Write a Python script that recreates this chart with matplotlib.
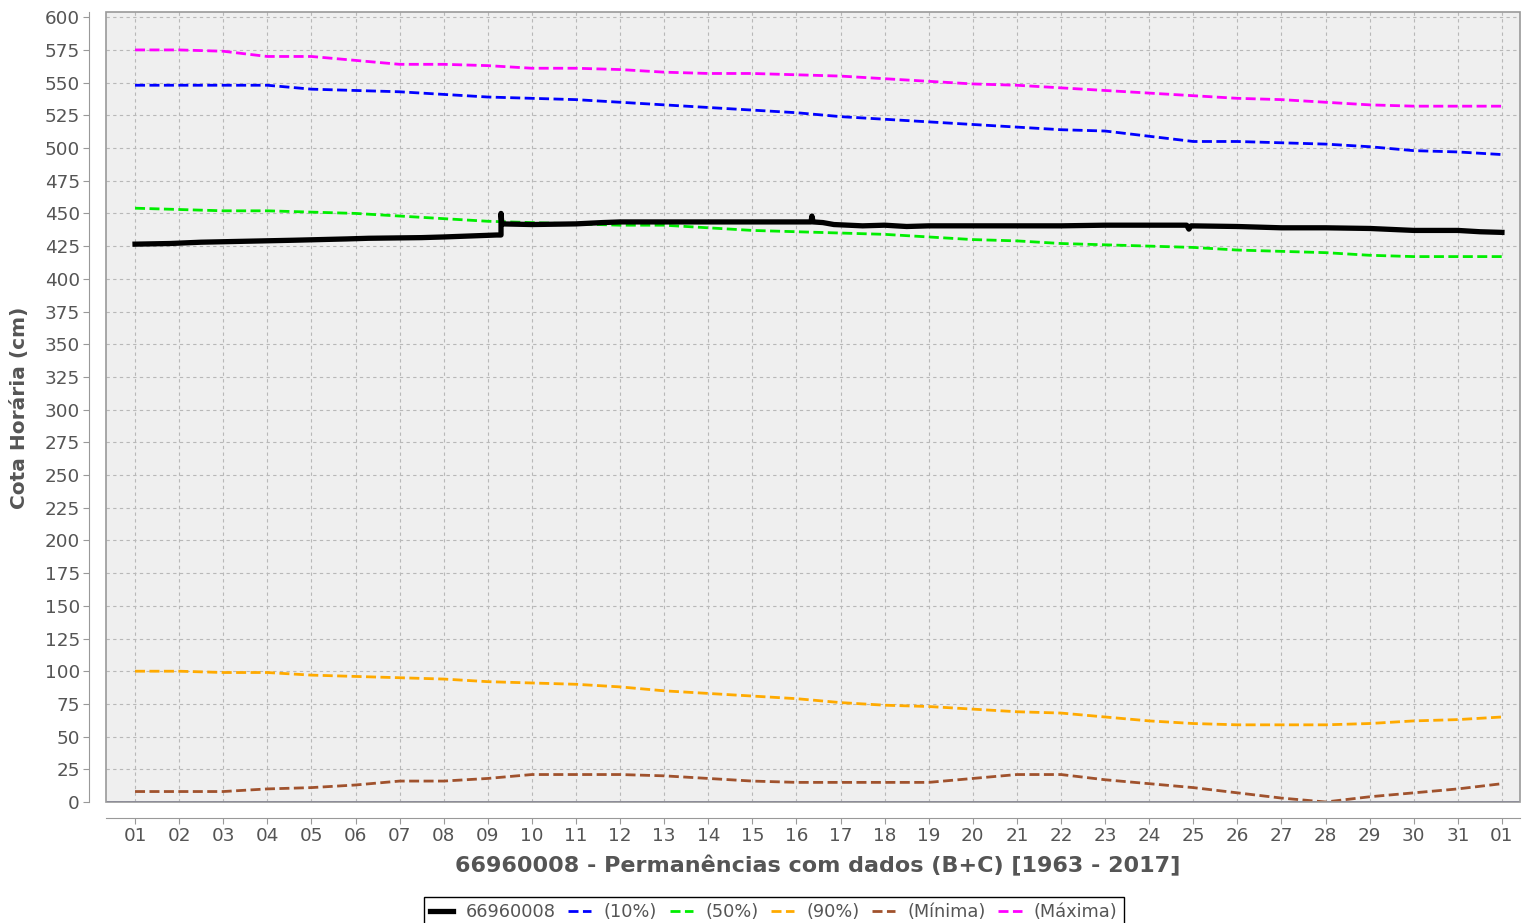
import matplotlib.pyplot as plt
from matplotlib.patches import Rectangle

# --- DADOS ---
dias = ['01', '02', '03', '04', '05', '06', '07', '08', '09', '10', '11', '12',
        '13', '14', '15', '16', '17', '18', '19', '20', '21', '22', '23', '24',
        '25', '26', '27', '28', '29', '30', '31', '01']

maxima = [575, 575, 574, 570, 570, 567, 564, 564, 563, 561, 561, 560, 558, 557, 557, 556,
          555, 553, 551, 549, 548, 546, 544, 542, 540, 538, 537, 535, 533, 532, 532, 532]
p10 = [548, 548, 548, 548, 545, 544, 543, 541, 539, 538, 537, 535, 533, 531, 529, 527,
       524, 522, 520, 518, 516, 514, 513, 509, 505, 505, 504, 503, 501, 498, 497, 495]
p50 = [454, 453, 452, 452, 451, 450, 448, 446, 444, 443, 442, 441, 441, 439, 437, 436,
       435, 434, 432, 430, 429, 427, 426, 425, 424, 422, 421, 420, 418, 417, 417, 417]
p90 = [100, 100, 99, 99, 97, 96, 95, 94, 92, 91, 90, 88, 85, 83, 81, 79,
       76, 74, 73, 71, 69, 68, 65, 62, 60, 59, 59, 59, 60, 62, 63, 65]
minima = [8, 8, 8, 10, 11, 13, 16, 16, 18, 21, 21, 21, 20, 18, 16, 15,
          15, 15, 15, 18, 21, 21, 17, 14, 11, 7, 3, 0, 4, 7, 10, 14]

# cota horaria observada (tempo em dias desde o dia 01)
cota_t = [0.0, 0.8, 1.5, 2.9, 3.6, 4.8, 5.3, 6.5, 7.0, 7.8, 8.2, 8.3, 8.3, 8.32,
          9.0, 10.0, 10.6, 11.0, 15.33, 15.35, 15.38, 15.6, 15.85, 16.5, 17.0, 17.5,
          18.0, 19.0, 20.0, 21.0, 22.0, 23.0, 23.85, 23.9, 23.95, 25.0, 26.0, 27.0,
          28.0, 29.0, 30.0, 30.5, 31.0]
cota_v = [426.5, 427, 428, 429, 429.5, 430.5, 431, 431.5, 432, 433, 433.5, 433.5, 450, 442,
          441.5, 442, 443, 443.5, 443.5, 448, 443.5, 443, 441.5, 440.5, 441, 440,
          440.5, 440.5, 440.5, 440.5, 441, 441, 441, 438, 440.5, 440, 439, 439,
          438.5, 437, 437, 436, 435.5]

x = list(range(len(dias)))

fig = plt.figure(figsize=(15.22, 9.23), dpi=100)
ax = fig.add_axes([0.0696, 0.1311, 0.9291, 0.8559])
ax.set_facecolor('#efefef')

dash = (3.6, 1.6)
ax.axhline(0, color='#333388', lw=1.2, zorder=2)
ax.plot(cota_t, cota_v, color='black', lw=3.8, label='66960008', zorder=5)
ax.plot(x, p10, color='#0000ff', lw=2, dashes=dash, label='(10%)')
ax.plot(x, p50, color='#00ee00', lw=2, dashes=dash, label='(50%)')
ax.plot(x, p90, color='#ffaa00', lw=2, dashes=dash, label='(90%)')
ax.plot(x, minima, color='#a0522d', lw=2, dashes=dash, label='(Mínima)')
ax.plot(x, maxima, color='#ff00ff', lw=2, dashes=dash, label='(Máxima)')

ax.set_xlim(-0.66, 31.41)
ax.set_ylim(0, 604)
ax.set_xticks(x)
ax.set_xticklabels(dias)
ax.set_yticks(range(0, 601, 25))
ax.grid(True, color='#b8b8b8', linestyle=(0, (3, 3)), lw=0.8)
ax.set_axisbelow(True)

for s in ['top', 'right']:
    ax.spines[s].set_visible(False)
ax.spines['left'].set_position(('outward', 12.2))
ax.spines['bottom'].set_position(('outward', 11.5))
ax.spines['left'].set_color('#999999')
ax.spines['bottom'].set_color('#999999')
ax.add_patch(Rectangle((0, 0), 1, 1, transform=ax.transAxes, fill=False,
                       edgecolor='#999999', lw=1.2, clip_on=False, zorder=6))
ax.tick_params(colors='#999999', labelcolor='#555555', labelsize=13.2, length=4, pad=2.5)

fig.text(0.013, 0.5585, 'Cota Horária (cm)', rotation=90, ha='center', va='center',
         fontsize=14.5, fontweight='bold', color='#555555')
fig.text(0.537, 0.062, '66960008 - Permanências com dados (B+C) [1963 - 2017]',
         ha='center', va='center', fontsize=16, fontweight='bold', color='#555555')

leg = fig.legend(loc='center', bbox_to_anchor=(0.5085, 0.012), ncol=6, fontsize=12.8,
                 handlelength=1.3, handletextpad=0.7, columnspacing=0.7, borderpad=0.35,
                 fancybox=False, edgecolor='black', framealpha=1)
for t in leg.get_texts():
    t.set_color('#555555')

fig.savefig('out.png', dpi=100)
